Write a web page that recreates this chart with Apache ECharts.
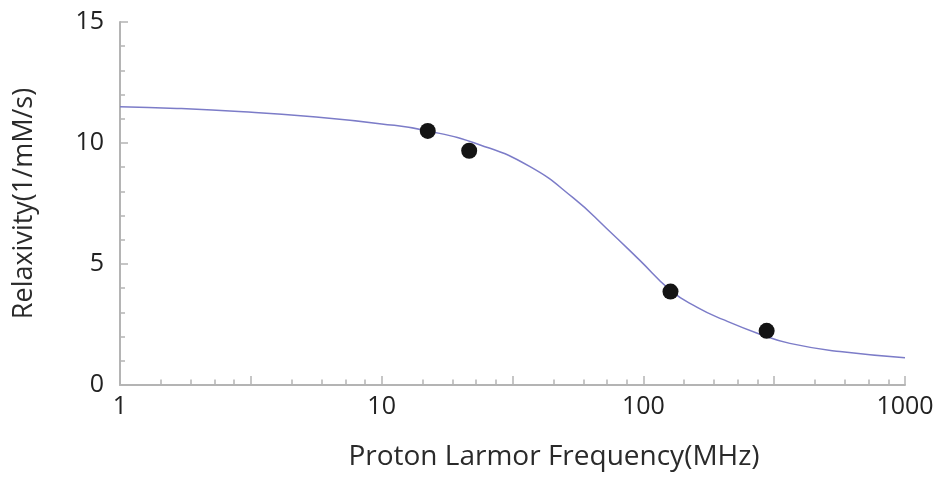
<!DOCTYPE html>
<html>
<head>
<meta charset="utf-8">
<script src="https://cdn.jsdelivr.net/npm/echarts@6/dist/echarts.min.js"></script>
<style>
html,body{margin:0;padding:0;background:#fff;}
#chart{width:942px;height:482px;}
</style>
</head>
<body>
<div id="chart"></div>
<script>
// Fitted curve
const curveFreq = [1, 1.65, 2.96, 5.32, 10, 15, 23.8, 36.9, 54, 72.4, 97, 127, 160, 201, 279, 363, 564, 1000];
const curveVal  = [11.5, 11.43, 11.29, 11.09, 10.79, 10.5, 9.92, 9.02, 7.73, 6.47, 5.15, 3.91, 3.22, 2.71, 2.1, 1.72, 1.38, 1.13];
// Measured points
const pointFreq = [15, 21.6, 127, 296];
const pointVal  = [10.5, 9.68, 3.86, 2.24];
// Axis labels
const xName = 'Proton Larmor Frequency(MHz)';
const yName = 'Relaxivity(1/mM/s)';

const chart = echarts.init(document.getElementById('chart'), null, {renderer: 'canvas'});
const font = 'Open Sans';
const axisColor = '#b4b4b4';

chart.setOption({
  animation: false,
  backgroundColor: '#fff',
  grid: {left: 120, right: 37, top: 22, bottom: 97, containLabel: false},
  xAxis: {
    type: 'log',
    logBase: 10,
    min: 1,
    max: 1000,
    interval: 0.5,
    name: xName,
    nameLocation: 'middle',
    nameGap: 58,
    nameTextStyle: {fontFamily: font, fontSize: 28, color: '#2a2a2a', padding: [0, 0, 0, 83]},
    axisLine: {lineStyle: {color: axisColor, width: 2}},
    axisTick: {inside: true, length: 9, lineStyle: {color: axisColor, width: 1.5}},
    minorTick: {show: true, splitNumber: 5, length: 5.5, lineStyle: {color: axisColor, width: 1.5}},
    splitLine: {show: false},
    minorSplitLine: {show: false},
    axisLabel: {
      fontFamily: font, fontSize: 25, color: '#222', margin: 9,
      formatter: function (v) {
        const e = Math.log10(v);
        return Math.abs(e - Math.round(e)) < 1e-6 ? String(Math.round(v)) : '';
      }
    }
  },
  yAxis: {
    type: 'value',
    min: 0,
    max: 15,
    interval: 5,
    name: yName,
    nameLocation: 'middle',
    nameGap: 82,
    nameTextStyle: {fontFamily: font, fontSize: 27, color: '#2a2a2a'},
    axisLine: {show: true, lineStyle: {color: axisColor, width: 2}},
    axisTick: {show: true, inside: true, length: 8, lineStyle: {color: axisColor, width: 1.5}},
    minorTick: {show: true, splitNumber: 5, length: 5, lineStyle: {color: axisColor, width: 1.5}},
    splitLine: {show: false},
    axisLabel: {fontFamily: font, fontSize: 25, color: '#222', margin: 16}
  },
  series: [
    {
      type: 'line',
      data: curveFreq.map((f, i) => [f, curveVal[i]]),
      smooth: 0.5,
      showSymbol: false,
      lineStyle: {color: '#7c7cc8', width: 1.5},
      z: 2
    },
    {
      type: 'scatter',
      data: pointFreq.map((f, i) => [f, pointVal[i]]),
      symbol: 'circle',
      symbolSize: 16,
      itemStyle: {color: '#141414', opacity: 1},
      z: 3
    }
  ]
});
</script>
</body>
</html>
